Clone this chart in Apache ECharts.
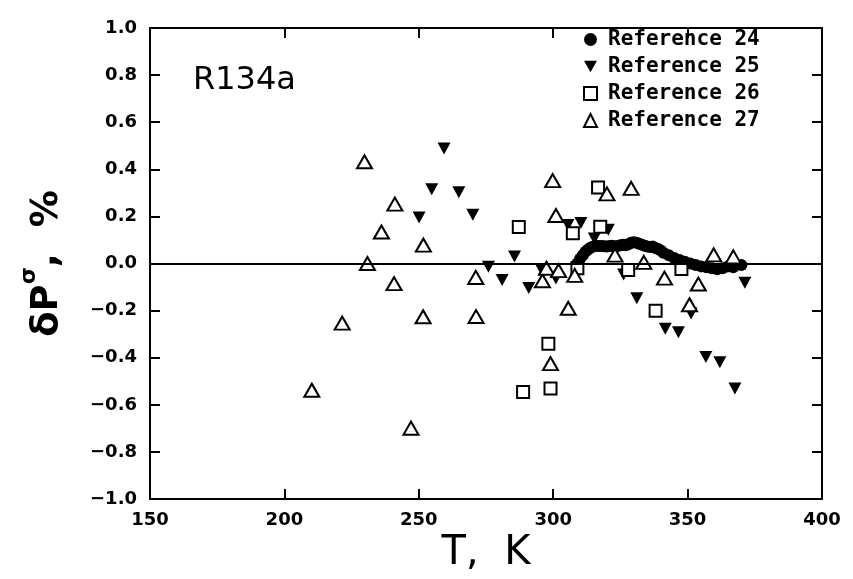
<!DOCTYPE html>
<html>
<head>
<meta charset="utf-8">
<script src="https://cdn.jsdelivr.net/npm/echarts@6/dist/echarts.min.js"></script>
<style>
  html, body { margin: 0; padding: 0; background: #fff; }
  #chart { width: 853px; height: 579px; }
</style>
</head>
<body>
<div id="chart"></div>
<script type="text/javascript">
// T, K  /  deviation, %
var ref24 = [
  [309, 0.0], [310, 0.02], [311, 0.035], [312, 0.05], [313, 0.06], [314, 0.068],
  [315, 0.072], [316, 0.074], [317, 0.075], [318, 0.074], [319, 0.073], [320, 0.072],
  [321, 0.074], [322, 0.076], [323, 0.072], [324, 0.074], [325, 0.078], [326, 0.08],
  [327, 0.078], [328, 0.082], [329, 0.088], [330, 0.09], [331, 0.088], [332, 0.084],
  [333, 0.08], [334, 0.076], [335, 0.072], [336, 0.07], [337, 0.072], [338, 0.066],
  [339, 0.062], [340, 0.055], [341, 0.046], [343, 0.035], [345, 0.024], [347, 0.015],
  [349, 0.008], [351, 0.0], [353, -0.006], [355, -0.012], [357, -0.016], [359, -0.02],
  [361, -0.024], [363, -0.02], [365, -0.012], [367, -0.016], [370, -0.006]
];
var ref25 = [
  [259.4, 0.488], [254.8, 0.315], [264.9, 0.303], [250.1, 0.196], [270.1, 0.207],
  [285.6, 0.03], [275.9, -0.014], [281.0, -0.07], [290.9, -0.104], [295.7, -0.027],
  [301.0, -0.063], [305.5, 0.164], [310.3, 0.172], [315.3, 0.106], [320.5, 0.143],
  [326.2, -0.046], [331.1, -0.147], [341.7, -0.277], [346.6, -0.292], [351.3, -0.212],
  [356.8, -0.397], [362.0, -0.419], [367.6, -0.53], [371.3, -0.082]
];
var ref26 = [
  [287.2, 0.155], [307.3, 0.129], [316.7, 0.323], [317.5, 0.156], [327.9, -0.027],
  [338.1, -0.2], [347.7, -0.023], [309.0, -0.02], [298.2, -0.34], [288.8, -0.545],
  [299.0, -0.53]
];
var ref27 = [
  [229.8, 0.432], [241.1, 0.252], [236.1, 0.134], [251.7, 0.078], [230.9, 0.0],
  [240.8, -0.085], [221.5, -0.253], [251.6, -0.226], [210.2, -0.538], [247.1, -0.699],
  [271.2, -0.059], [271.3, -0.225], [299.8, 0.352], [301.0, 0.204], [296.0, -0.073],
  [297.5, -0.02], [302.0, -0.03], [305.6, -0.19], [299.0, -0.425], [308.0, -0.05],
  [320.0, 0.296], [329.0, 0.319], [323.0, 0.036], [333.7, 0.005], [341.4, -0.062],
  [350.7, -0.175], [354.0, -0.087], [359.7, 0.037], [367.0, 0.028]
];
var seriesNames = ['Reference 24', 'Reference 25', 'Reference 26', 'Reference 27'];
var zeroLine = 0;

var downTri = 'path://M0,0L10,0L5,9Z';
var tickFont = '"DejaVu Sans"';

function frameAxis(extra) {
  var base = {
    type: 'value',
    axisLine: { onZero: false, lineStyle: { color: '#000', width: 2 } },
    axisTick: { inside: true, length: 10, lineStyle: { color: '#000', width: 2 } },
    splitLine: { show: false }
  };
  for (var k in extra) base[k] = extra[k];
  return base;
}

var chart = echarts.init(document.getElementById('chart'));
var option = {
  animation: false,
  backgroundColor: '#fff',
  title: {
    text: 'R134a',
    left: 188,
    top: 60,
    textStyle: { fontFamily: tickFont, fontSize: 32, fontWeight: 'normal', color: '#000' }
  },
  legend: {
    orient: 'vertical',
    left: 578,
    top: 24,
    itemWidth: 13,
    itemHeight: 13,
    itemGap: 6,
    textStyle: {
      fontFamily: '"DejaVu Sans Mono"', fontSize: 21, lineHeight: 21, fontWeight: 'bold',
      color: '#000', padding: [0, 0, 0, 6]
    },
    data: [
      { name: seriesNames[0], icon: 'circle' },
      { name: seriesNames[1], icon: downTri },
      { name: seriesNames[2], icon: 'rect' },
      { name: seriesNames[3], icon: 'triangle' }
    ]
  },
  grid: { left: 150, right: 31, top: 28, bottom: 78 },
  xAxis: [
    frameAxis({
      min: 150, max: 400, interval: 50,
      name: 'T,  K', nameLocation: 'middle', nameGap: 30,
      nameTextStyle: { fontFamily: tickFont, fontSize: 40, color: '#000' },
      axisLabel: { fontFamily: tickFont, fontSize: 18, fontWeight: 'bold', color: '#000', margin: 12 }
    }),
    frameAxis({
      min: 150, max: 400, interval: 50, position: 'top',
      axisLabel: { show: false }
    })
  ],
  yAxis: [
    frameAxis({
      min: -1, max: 1, interval: 0.2,
      name: '{a|δP}{s|σ}{a|,  %}', nameLocation: 'middle', nameGap: 84, nameRotate: 90,
      nameTextStyle: {
        rich: {
          a: { fontFamily: tickFont, fontSize: 37, lineHeight: 48, color: '#000', fontWeight: 'bold', verticalAlign: 'bottom' },
          s: { fontFamily: tickFont, fontSize: 22, lineHeight: 22, color: '#000', fontWeight: 'bold', verticalAlign: 'top' }
        }
      },
      axisLabel: {
        fontFamily: tickFont, fontSize: 18, fontWeight: 'bold', color: '#000', margin: 13,
        formatter: function (v) { return v.toFixed(1).replace('-', '−'); }
      }
    }),
    frameAxis({
      min: -1, max: 1, interval: 0.2, position: 'right',
      axisLabel: { show: false }
    })
  ],
  series: [
    {
      name: seriesNames[0], type: 'scatter', data: ref24,
      symbol: 'circle', symbolSize: 12,
      itemStyle: { color: '#000', opacity: 1 },
      markLine: {
        silent: true, symbol: 'none', label: { show: false },
        lineStyle: { color: '#000', width: 2, type: 'solid' },
        data: [{ yAxis: zeroLine }]
      },
      z: 3
    },
    {
      name: seriesNames[1], type: 'scatter', data: ref25,
      symbol: downTri, symbolSize: [13, 12],
      itemStyle: { color: '#000', opacity: 1 }, z: 4
    },
    {
      name: seriesNames[2], type: 'scatter', data: ref26,
      symbol: 'rect', symbolSize: 12,
      itemStyle: { color: '#fff', borderColor: '#000', borderWidth: 2, opacity: 1 }, z: 4
    },
    {
      name: seriesNames[3], type: 'scatter', data: ref27,
      symbol: 'triangle', symbolSize: [15, 13],
      itemStyle: { color: '#fff', borderColor: '#000', borderWidth: 2, opacity: 1 }, z: 4
    }
  ]
};
chart.setOption(option);
</script>
</body>
</html>
